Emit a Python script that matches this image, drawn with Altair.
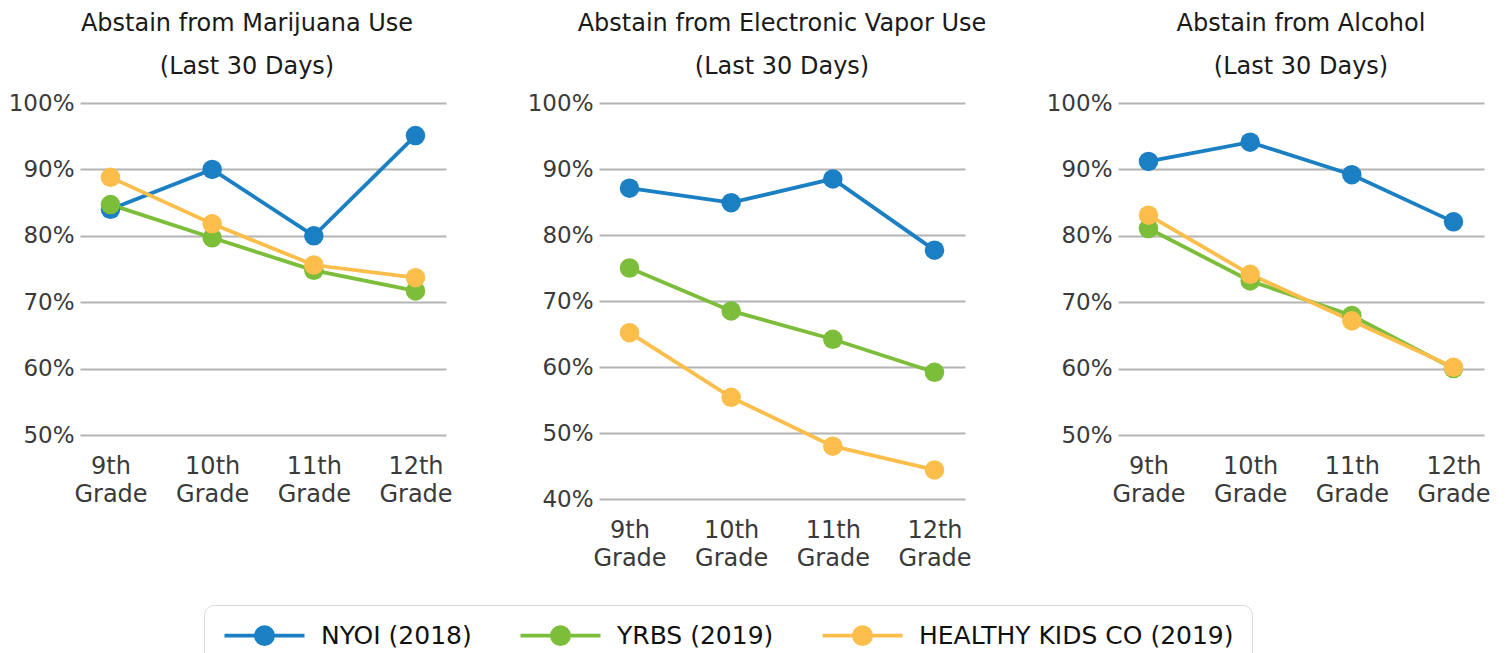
import altair as alt
import pandas as pd

grades = ["9th Grade", "10th Grade", "11th Grade", "12th Grade"]
series = ["NYOI (2018)", "YRBS (2019)", "HEALTHY KIDS CO (2019)"]
colors = ["#1b7fc4", "#7cbd3a", "#fcbe4b"]

# Abstain from Marijuana Use
mj_nyoi = [0.84, 0.90, 0.80, 0.951]
mj_yrbs = [0.847, 0.797, 0.748, 0.717]
mj_hk = [0.888, 0.818, 0.756, 0.737]

# Abstain from Electronic Vapor Use
ev_nyoi = [0.871, 0.849, 0.885, 0.777]
ev_yrbs = [0.750, 0.685, 0.642, 0.592]
ev_hk = [0.652, 0.554, 0.480, 0.444]

# Abstain from Alcohol
al_nyoi = [0.912, 0.941, 0.892, 0.821]
al_yrbs = [0.811, 0.732, 0.680, 0.600]
al_hk = [0.831, 0.742, 0.672, 0.602]

FONT = "DejaVu Sans"

# line with a dot, drawn as strokes only
LEG_PATH = ("M-1,0L7,0"
            "M3.05,0A0.05,0.05,0,1,0,2.95,0A0.05,0.05,0,1,0,3.05,0"
            "M3.25,0A0.25,0.25,0,1,0,2.75,0A0.25,0.25,0,1,0,3.25,0"
            "M3.45,0A0.45,0.45,0,1,0,2.55,0A0.45,0.45,0,1,0,3.45,0"
            "M3.65,0A0.65,0.65,0,1,0,2.35,0A0.65,0.65,0,1,0,3.65,0"
            "M3.85,0A0.85,0.85,0,1,0,2.15,0A0.85,0.85,0,1,0,3.85,0")


def long_df(vals):
    rows = []
    for s, v in zip(series, vals):
        for g, y in zip(grades, v):
            rows.append({"grade": g, "series": s, "value": y})
    return pd.DataFrame(rows)


legend = alt.Legend(
    title=None, orient="none", legendX=124, legendY=502, direction="horizontal",
    symbolType=LEG_PATH, symbolSize=400, symbolStrokeWidth=3.8, symbolOpacity=1,
    labelFont=FONT, labelFontSize=25, labelColor="#111111", labelOffset=74,
    labelLimit=600, columnPadding=40, padding=18, fillColor="white",
    strokeColor="#d9d9d9", cornerRadius=10,
)


def panel(title, vals, ymin, height, dx=0):
    df = long_df(vals)
    ticks = [round(ymin + 0.1 * i, 2) for i in range(int(round((1.0 - ymin) / 0.1)) + 1)]
    return alt.Chart(df).mark_line(
        strokeWidth=3.8,
        point=alt.OverlayMarkDef(filled=True, size=380, opacity=1),
    ).encode(
        x=alt.X("grade:N", sort=grades, title=None,
                scale=alt.Scale(type="point", padding=0.3),
                axis=alt.Axis(labelAngle=0, labelExpr="split(datum.label, ' ')",
                              labelFont=FONT, labelFontSize=24, labelLineHeight=28,
                              labelColor="#3a3a3a", labelPadding=19, ticks=False,
                              domain=False, grid=False)),
        y=alt.Y("value:Q", title=None,
                scale=alt.Scale(domain=[ymin, 1.0], nice=False, zero=False),
                axis=alt.Axis(values=ticks, format=".0%", labelFont=FONT,
                              labelFontSize=23, labelColor="#3a3a3a", labelPadding=6,
                              ticks=False, domain=False, grid=True,
                              gridColor="#b4b4b4", gridWidth=2)),
        color=alt.Color("series:N", scale=alt.Scale(domain=series, range=colors),
                        legend=legend),
        order=alt.Order("series_order:Q"),
    ).transform_calculate(
        series_order="indexof(" + str(series) + ", datum.series)"
    ).properties(
        width=366, height=height,
        title=alt.TitleParams(text=[title, "(Last 30 Days)"], font=FONT, fontSize=24,
                              fontWeight="normal", color="#1a1a1a", lineHeight=43,
                              anchor="middle", offset=13, dx=dx),
    )


p1 = panel("Abstain from Marijuana Use", [mj_nyoi, mj_yrbs, mj_hk], 0.5, 332, dx=-16)
p2 = panel("Abstain from Electronic Vapor Use", [ev_nyoi, ev_yrbs, ev_hk], 0.4, 396)
p3 = panel("Abstain from Alcohol", [al_nyoi, al_yrbs, al_hk], 0.5, 332)

chart = alt.hconcat(p1, p2, p3, spacing=153, bounds="flush").configure_view(
    stroke=None
).properties(
    padding={"left": 0, "top": 4, "right": 0, "bottom": 0}
)

chart.save("out.html", embed_options={"renderer": "svg", "actions": False})
